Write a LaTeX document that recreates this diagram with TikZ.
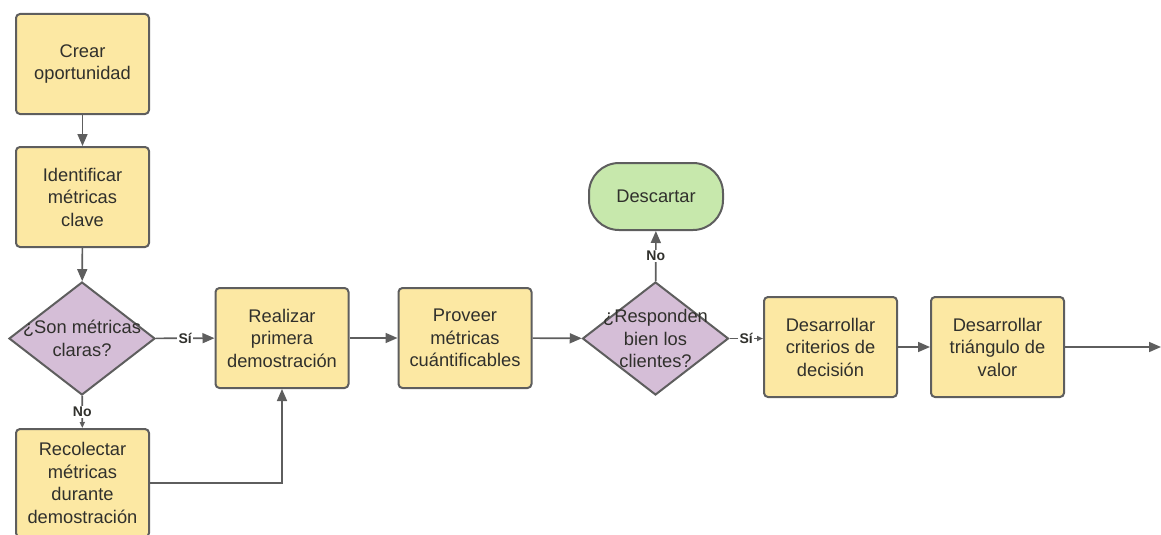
\documentclass[tikz,border=0pt]{standalone}
\usepackage{fontspec}
\setmainfont{Liberation Sans}
\usetikzlibrary{shapes.geometric,arrows.meta}

\definecolor{boxfill}{RGB}{252,232,163}
\definecolor{decfill}{RGB}{213,190,215}
\definecolor{endfill}{RGB}{199,232,172}
\definecolor{edge}{RGB}{94,94,94}
\definecolor{ink}{RGB}{48,48,44}

\tikzset{
  every node/.style={text=ink},
  stepbox/.style={draw=edge, line width=2pt, fill=boxfill, rounded corners=4pt,
    minimum width=133pt, minimum height=100pt, inner sep=0pt,
    align=center, font=\fontsize{18.3}{22.5}\selectfont},
  decision/.style={diamond, draw=edge, line width=2pt, fill=decfill,
    minimum width=146pt, minimum height=113pt, inner sep=0pt},
  dectext/.style={align=center, font=\fontsize{18.3}{22.5}\selectfont, text=ink},
  terminal/.style={draw=edge, line width=2pt, fill=endfill, rounded corners=30pt,
    minimum width=134pt, minimum height=67pt, inner sep=0pt,
    font=\fontsize{18.3}{22.5}\selectfont},
  flow/.style={draw=edge, line width=1.6pt, -{Triangle[length=12pt,width=10pt]}},
  shortflow/.style={draw=edge, line width=1.6pt, -{Triangle[length=6pt,width=5pt]}},
  tag/.style={fill=white, inner sep=1.5pt, font=\bfseries\fontsize{14}{15}\selectfont, text=ink},
}

\begin{document}
\begin{tikzpicture}[x=1pt,y=-1pt]
\useasboundingbox (0,0) rectangle (1161,535);
\clip (0,0) rectangle (1161,535);

% left column
\node[stepbox] (crear) at (82.5,64) {Crear\\oportunidad};
\node[stepbox] (ident) at (82.5,197) {Identificar\\métricas\\clave};
\node[decision, label={[dectext]center:{¿Son métricas\\claras?}}] (dec1) at (82,338.5) {};
\node[stepbox, minimum height=108pt] (recol) at (82.5,483) {Recolectar\\métricas\\durante\\demostración};

% main row
\node[stepbox] (demo) at (282,338) {Realizar\\primera\\demostración};
\node[stepbox] (prov) at (465,338) {Proveer\\métricas\\cuántificables};
\node[decision, label={[dectext]center:{¿Responden\\bien los\\clientes?}}] (dec2) at (655.5,338.5) {};
\node[terminal] (desc) at (656,196.5) {Descartar};
\node[stepbox] (crit) at (830.5,347) {Desarrollar\\criterios de\\decisión};
\node[stepbox] (tri) at (997.5,347) {Desarrollar\\triángulo de\\valor};
\coordinate (salida) at (1161,347);

% connectors
\draw[flow] (crear) -- (ident);
\draw[flow] (ident) -- (dec1);
\draw[flow] (dec1) -- node[tag] {Sí} (demo);
\draw[shortflow] (dec1) -- node[tag] {No} (recol);
\draw[flow] (recol.east) -| (demo.south);
\draw[flow] (demo) -- (prov);
\draw[flow] (prov) -- (dec2);
\draw[flow] (dec2) -- node[tag] {No} (desc);
\draw[shortflow] (dec2.east) -- node[tag] {Sí} (dec2.east -| crit.west);
\draw[flow] (crit) -- (tri);
\draw[flow] (tri) -- (salida);
\end{tikzpicture}
\end{document}
